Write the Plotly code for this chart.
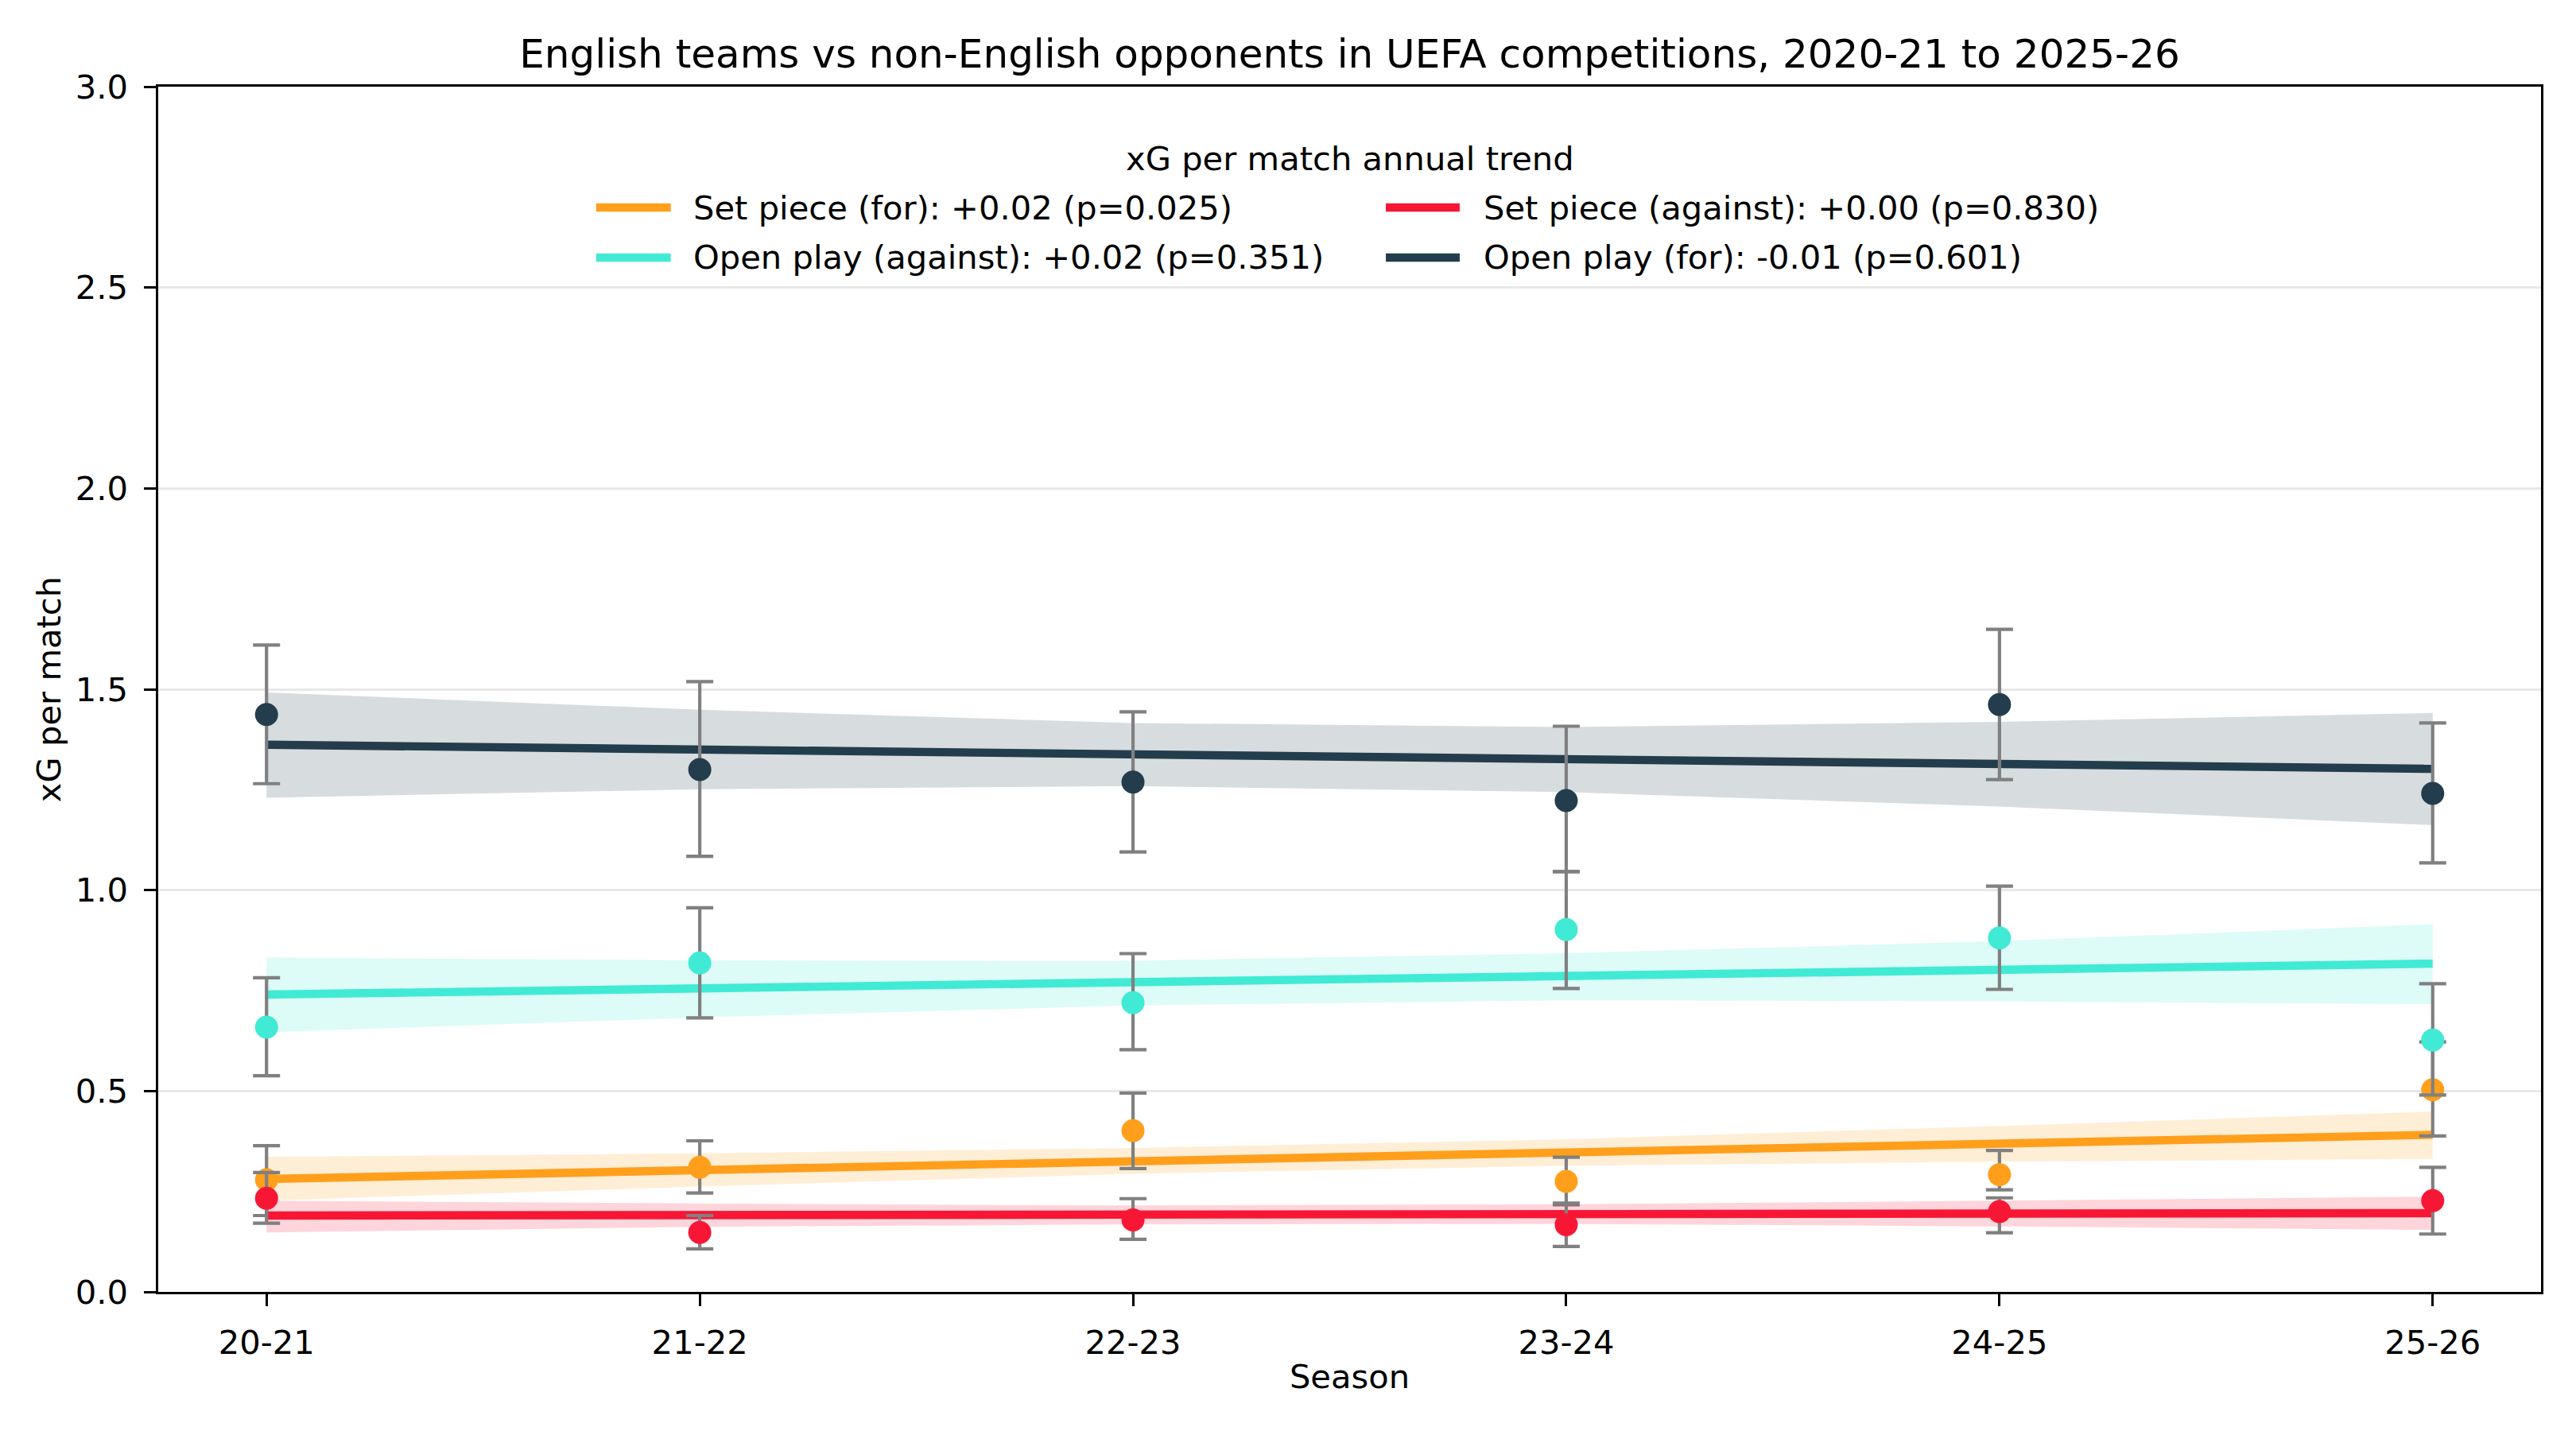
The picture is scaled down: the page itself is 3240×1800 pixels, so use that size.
import plotly.graph_objects as go

seasons = ["20-21", "21-22", "22-23", "23-24", "24-25", "25-26"]

# Set piece (for)
set_for = [0.279, 0.310, 0.401, 0.275, 0.292, 0.503]
set_for_hi = [0.364, 0.376, 0.495, 0.335, 0.352, 0.622]
set_for_lo = [0.190, 0.246, 0.307, 0.217, 0.254, 0.388]
set_for_trend = [0.281, 0.303, 0.325, 0.347, 0.369, 0.391]
set_for_band_hi = [0.336, 0.345, 0.358, 0.380, 0.413, 0.449]
set_for_band_lo = [0.227, 0.262, 0.294, 0.314, 0.324, 0.331]

# Set piece (against)
set_ag = [0.233, 0.148, 0.179, 0.167, 0.200, 0.227]
set_ag_hi = [0.297, 0.190, 0.232, 0.221, 0.234, 0.310]
set_ag_lo = [0.171, 0.107, 0.131, 0.113, 0.147, 0.144]
set_ag_trend = [0.190, 0.191, 0.192, 0.193, 0.195, 0.196]
set_ag_band_hi = [0.227, 0.220, 0.215, 0.218, 0.227, 0.237]
set_ag_band_lo = [0.148, 0.162, 0.168, 0.169, 0.163, 0.154]

# Open play (against)
open_ag = [0.659, 0.819, 0.720, 0.902, 0.881, 0.627]
open_ag_hi = [0.782, 0.956, 0.842, 1.046, 1.010, 0.767]
open_ag_lo = [0.538, 0.682, 0.603, 0.755, 0.753, 0.490]
open_ag_trend = [0.740, 0.755, 0.770, 0.788, 0.802, 0.817]
open_ag_band_hi = [0.832, 0.825, 0.824, 0.843, 0.873, 0.915]
open_ag_band_lo = [0.646, 0.683, 0.713, 0.726, 0.723, 0.716]

# Open play (for)
open_for = [1.437, 1.300, 1.269, 1.223, 1.462, 1.241]
open_for_hi = [1.610, 1.519, 1.444, 1.408, 1.649, 1.416]
open_for_lo = [1.265, 1.084, 1.095, 1.046, 1.275, 1.068]
open_for_trend = [1.362, 1.350, 1.338, 1.327, 1.313, 1.302]
open_for_band_hi = [1.492, 1.449, 1.416, 1.406, 1.419, 1.441]
open_for_band_lo = [1.230, 1.251, 1.259, 1.244, 1.208, 1.162]

labels = [
    "Set piece (for): +0.02 (p=0.025)",
    "Set piece (against): +0.00 (p=0.830)",
    "Open play (against): +0.02 (p=0.351)",
    "Open play (for): -0.01 (p=0.601)",
]
colors = ["#FF9F1C", "#F71735", "#41EAD4", "#233D4D"]
band_rgba = ["rgba(255,159,28,0.18)", "rgba(247,23,53,0.18)",
             "rgba(65,234,212,0.18)", "rgba(35,61,77,0.18)"]

series = [
    (set_for, set_for_hi, set_for_lo, set_for_trend, set_for_band_hi, set_for_band_lo),
    (set_ag, set_ag_hi, set_ag_lo, set_ag_trend, set_ag_band_hi, set_ag_band_lo),
    (open_ag, open_ag_hi, open_ag_lo, open_ag_trend, open_ag_band_hi, open_ag_band_lo),
    (open_for, open_for_hi, open_for_lo, open_for_trend, open_for_band_hi, open_for_band_lo),
]

x = list(range(len(seasons)))
FONT = "DejaVu Sans"
FS = 41.67

fig = go.Figure()
for i, (v, hi, lo, tr, bhi, blo) in enumerate(series):
    fig.add_trace(go.Scatter(
        x=x + x[::-1], y=bhi + blo[::-1], fill="toself", fillcolor=band_rgba[i],
        line=dict(width=0), mode="lines", showlegend=False, hoverinfo="skip"))
    fig.add_trace(go.Scatter(
        x=x, y=tr, mode="lines", line=dict(color=colors[i], width=10.4),
        showlegend=False, name=labels[i]))
    fig.add_trace(go.Scatter(
        x=x, y=v, mode="markers",
        marker=dict(color=colors[i], size=29, line=dict(width=0)),
        error_y=dict(type="data", symmetric=False,
                     array=[h - a for h, a in zip(hi, v)],
                     arrayminus=[a - l for a, l in zip(v, lo)],
                     color="#808080", thickness=4.2, width=17),
        showlegend=False))

# Manual legend (matplotlib-like, 2 columns)
leg_rows = [0.8997, 0.8582]
col_line = [(0.1838, 0.2151), (0.5152, 0.5462)]
col_text = [0.2239, 0.5555]
order = [(0, 0, 0), (1, 1, 0), (2, 0, 1), (3, 1, 1)]  # (series, col, row)
shapes = []
annotations = []
for s, c, r in order:
    shapes.append(dict(type="line", xref="paper", yref="paper",
                       x0=col_line[c][0], x1=col_line[c][1], y0=leg_rows[r], y1=leg_rows[r],
                       line=dict(color=colors[s], width=10.4)))
    annotations.append(dict(xref="paper", yref="paper", x=col_text[c], y=leg_rows[r],
                            xanchor="left", yanchor="middle", showarrow=False,
                            text=labels[s], font=dict(family=FONT, size=FS, color="black")))
annotations.append(dict(xref="paper", yref="paper", x=0.5, y=0.9406,
                        xanchor="center", yanchor="middle", showarrow=False,
                        text="xG per match annual trend",
                        font=dict(family=FONT, size=FS, color="black")))

# page body adds an 8px offset, so the figure is 8px smaller on each axis
W, H = 3232, 1792
fig.update_layout(
    width=W, height=H, autosize=False,
    margin=dict(l=191, r=44, t=101, b=175, pad=0),
    paper_bgcolor="white", plot_bgcolor="white",
    font=dict(family=FONT, size=FS, color="black"),
    title=dict(text="English teams vs non-English opponents in UEFA competitions, 2020-21 to 2025-26",
               x=0.5, xref="paper", xanchor="center", y=1 - (67 - 8) / H, yref="container",
               yanchor="middle", font=dict(family=FONT, size=50, color="black")),
    shapes=shapes, annotations=annotations, showlegend=False,
)
fig.update_xaxes(
    range=[-0.25, 5.25], tickmode="array", tickvals=x, ticktext=seasons,
    showgrid=False, zeroline=False, showline=True, linecolor="black", linewidth=3.3,
    mirror=True, ticks="outside", ticklen=14.6, tickwidth=3.3, tickcolor="black",
    ticklabelstandoff=10, tickfont=dict(family=FONT, size=FS),
    title=dict(text="Season", standoff=6, font=dict(family=FONT, size=FS)))
fig.update_yaxes(
    range=[0, 3], tickmode="array", tickvals=[0, 0.5, 1.0, 1.5, 2.0, 2.5, 3.0],
    ticktext=["0.0", "0.5", "1.0", "1.5", "2.0", "2.5", "3.0"],
    showgrid=True, gridcolor="#e8e8e8", gridwidth=3.3, zeroline=False,
    showline=True, linecolor="black", linewidth=3.3, mirror=True,
    ticks="outside", ticklen=14.6, tickwidth=3.3, tickcolor="black",
    ticklabelstandoff=12, tickfont=dict(family=FONT, size=FS),
    title=dict(text="xG per match", standoff=6, font=dict(family=FONT, size=FS)))

fig.write_html("out.html")
